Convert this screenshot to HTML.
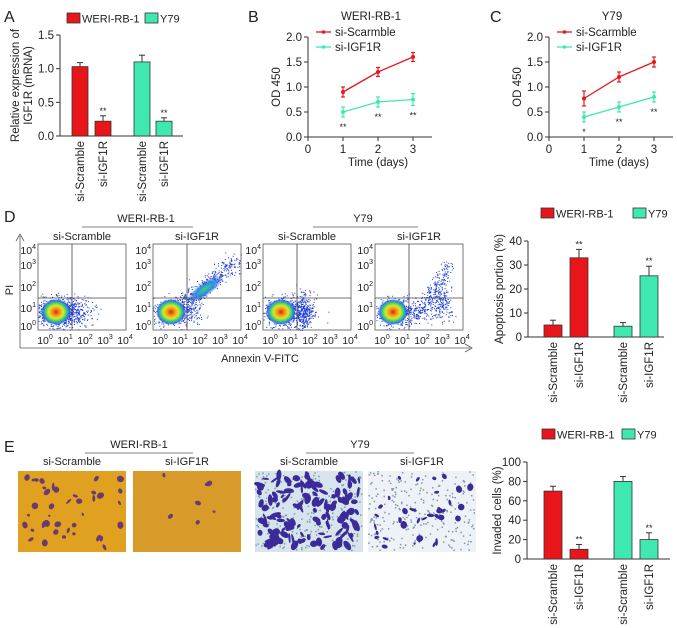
<!DOCTYPE html>
<html><head><meta charset="utf-8"><style>
body{margin:0;background:#fff;overflow:hidden}
svg{display:block;font-family:"Liberation Sans",Arial,sans-serif}
</style></head><body>
<svg id="fig" width="677" height="628" viewBox="0 0 677 628" xmlns="http://www.w3.org/2000/svg">
<defs>
<radialGradient id="core"><stop offset="0" stop-color="#e8201a"/><stop offset="0.3" stop-color="#f5a21a"/><stop offset="0.5" stop-color="#d8e82a"/><stop offset="0.7" stop-color="#3bd46a"/><stop offset="0.88" stop-color="#2a6af0" stop-opacity="0.9"/><stop offset="1" stop-color="#1a2ad8" stop-opacity="0"/></radialGradient>
<radialGradient id="tail"><stop offset="0" stop-color="#3fd66a"/><stop offset="0.5" stop-color="#2a90e8"/><stop offset="1" stop-color="#1a3ad8" stop-opacity="0"/></radialGradient>
</defs>
<g id="g" font-size="11" fill="#222"></g>
</svg>
<script>
// ---- data ----
const barCats = ["si-Scramble","si-IGF1R","si-Scramble","si-IGF1R"];
const aVals = [1.03,0.22,1.1,0.22];
const aErr = [0.06,0.08,0.1,0.05];
const aTicks = [0,0.5,1.0,1.5];
const lineDays = [1,2,3];
const bScr = [0.9,1.3,1.6];
const bScrErr = [0.1,0.09,0.09];
const bIgf = [0.5,0.7,0.75];
const bIgfErr = [0.1,0.1,0.12];
const cScr = [0.77,1.2,1.5];
const cScrErr = [0.15,0.1,0.1];
const cIgf = [0.4,0.6,0.8];
const cIgfErr = [0.1,0.1,0.1];
const odTicks = [0,0.5,1.0,1.5,2.0];
const dayTicks = [0,1,2,3];
const dVals = [5,33,4.5,25.5];
const dErr = [2,3.5,1.5,4];
const dTicks = [0,10,20,30,40];
const eVals = [70,10,80,20];
const eErr = [5,5,5,7];
const eTicks = [0,20,40,60,80,100];
const RED="#e8161b", TEAL="#3fe8b0";
const NS="http://www.w3.org/2000/svg";
const G=document.getElementById('g');
function el(tag,attrs,parent,text){const e=document.createElementNS(NS,tag);for(const k in attrs)e.setAttribute(k,attrs[k]);if(text!==undefined)e.textContent=text;(parent||G).appendChild(e);return e;}
function line(x1,y1,x2,y2,c,w,p){return el('line',{x1,y1,x2,y2,stroke:c||'#333','stroke-width':w||1},p);}

[["A",4,22],["B",248,22],["C",490,22],["D",4,222],["E",4,452]].forEach(([t,x,y])=>{
 const e=el('text',{x,y,'font-size':16},G,t);
 
 
});

function legend(x,y,x2){
 const r=el('rect',{x,y:y-6,width:13,height:10,fill:RED,stroke:'#333','stroke-width':0.8});
 
 const t=el('text',{x:x+15,y:y+3.5,'font-size':11},G,'WERI-RB-1');
 
 const r2=el('rect',{x:x2,y:y-6,width:13,height:10,fill:TEAL,stroke:'#333','stroke-width':0.8});
 
 const t2=el('text',{x:x2+15,y:y+3.5,'font-size':11},G,'Y79');
 
}

function barChart(o){
 const ys=v=>o.y0-(v-o.ticks[0])/(o.ticks[o.ticks.length-1]-o.ticks[0])*(o.y0-o.y1);
 line(o.ax,o.y1,o.ax,o.y0);line(o.ax,o.y0,o.axEnd,o.y0);
 o.ticks.forEach(t=>{const y=ys(t);line(o.ax-4,y,o.ax,y);
  const tl=el('text',{x:o.ax-6,y:y+4,'text-anchor':'end','font-size':11.5},G,o.fmt(t));
  });
 o.vals.forEach((v,i)=>{
  const cx=o.centers[i], c=i<2?RED:TEAL;
  const top=ys(v+o.err[i]);
  line(cx,ys(v),cx,top,'#333',1);line(cx-3,top,cx+3,top,'#333',1);
  const b=el('rect',{x:cx-o.bw/2,y:ys(v),width:o.bw,height:o.y0-ys(v),fill:c,stroke:'#333','stroke-width':0.8});
  
  
  if(i%2===1){const s=el('text',{x:cx,y:top-2,'text-anchor':'middle','font-size':9},G,'**');
   }
  const xl=el('text',{x:0,y:0,'text-anchor':'end','font-size':11.5,transform:`translate(${cx+4},${o.y0+5}) rotate(-90)`},G,barCats[i]);
  
 });
 o.ylab.forEach((t,k)=>{const yl=el('text',{x:0,y:0,'text-anchor':'middle','font-size':11.5,transform:`translate(${o.ylx+k*13},${(o.y0+o.y1)/2}) rotate(-90)`},G,t);
  });
}

legend(67,19,145);
barChart({ax:60,axEnd:183,y0:136,y1:35,ticks:aTicks,vals:aVals,err:aErr,centers:[80,103,142,164],bw:16,fmt:t=>t.toFixed(1),ylab:["Relative expression of","IGF1R (mRNA)"],ylx:19});
legend(541,214,633);
barChart({ax:528,axEnd:664,y0:337,y1:241,ticks:dTicks,vals:dVals,err:dErr,centers:[553,579,623,649],bw:18,fmt:t=>String(t),ylab:["Apoptosis portion (%)"],ylx:503});
legend(542,435,622);
barChart({ax:527,axEnd:670,y0:559,y1:462,ticks:eTicks,vals:eVals,err:eErr,centers:[553,579,623,649],bw:18,fmt:t=>String(t),ylab:["Invaded cells (%)"],ylx:501});

function lineChart(o){
 const xs=t=>o.ax+t*35, ys=v=>137-v*50;
 line(o.ax,37,o.ax,137);line(o.ax,137,o.ax+124,137);
 odTicks.forEach(t=>{line(o.ax-4,ys(t),o.ax,ys(t));
  const tl=el('text',{x:o.ax-6,y:ys(t)+4,'text-anchor':'end','font-size':11.5},G,t.toFixed(1));
  });
 dayTicks.forEach(t=>{line(xs(t),137,xs(t),141);
  const tl=el('text',{x:xs(t),y:153,'text-anchor':'middle','font-size':11.5},G,String(t));
  });
 const xt=el('text',{x:xs(2),y:166,'text-anchor':'middle','font-size':11.5},G,'Time (days)');
 
 const yt=el('text',{x:0,y:0,'text-anchor':'middle','font-size':11.5,transform:`translate(${o.ax-28},87) rotate(-90)`},G,'OD 450');
 
 const ti=el('text',{x:o.ax+63,y:20,'text-anchor':'middle','font-size':11.5},G,o.title);
 
 [[o.scr,o.scrE,RED,'si-scramble'],[o.igf,o.igfE,TEAL,'si-igf1r']].forEach(([vals,err,c,n])=>{
  const p=el('polyline',{points:vals.map((v,i)=>xs(lineDays[i])+','+ys(v)).join(' '),fill:'none',stroke:c,'stroke-width':1.3});
  
  vals.forEach((v,i)=>{const x=xs(lineDays[i]);
   line(x,ys(v-err[i]),x,ys(v+err[i]),c,1.2);line(x-2,ys(v-err[i]),x+2,ys(v-err[i]),c,1.2);line(x-2,ys(v+err[i]),x+2,ys(v+err[i]),c,1.2);
   const pt=el('circle',{cx:x,cy:ys(v),r:2,fill:c});
   });
 });
 o.igf.forEach((v,i)=>{const s=el('text',{x:xs(lineDays[i]),y:ys(v-o.igfE[i])+13,'text-anchor':'middle','font-size':9},G,o.stars[i]);
  });
 [[RED,'si-Scarmble',32],[TEAL,'si-IGF1R',47]].forEach(([c,t,y])=>{
  line(o.ax+8,y,o.ax+23,y,c,1.3);el('circle',{cx:o.ax+15.5,cy:y,r:1.8,fill:c});
  const lt=el('text',{x:o.ax+27,y:y+4,'font-size':11.5},G,t);
  });
}
lineChart({ax:308,title:'WERI-RB-1',scr:bScr,scrE:bScrErr,igf:bIgf,igfE:bIgfErr,stars:['**','**','**']});
lineChart({ax:549,title:'Y79',scr:cScr,scrE:cScrErr,igf:cIgf,igfE:cIgfErr,stars:['*','**','**']});

function header(t,cx,y,x1,x2){const h=el('text',{x:cx,y,'text-anchor':'middle','font-size':11},G,t);
 line(x1,y+5,x2,y+5,'#555',0.8);}
header('WERI-RB-1',146,222,82,193);header('Y79',363,222,313,418);
header('WERI-RB-1',139,448,85,193);header('Y79',360,448,306,414);

let seed=7;function rnd(){seed=(seed*16807)%2147483647;return seed/2147483647;}
function gauss(){return (rnd()+rnd()+rnd()-1.5)/0.5;}
const flowX=[38,153,263,375], flowNames=['si-Scramble','si-IGF1R','si-Scramble','si-IGF1R'];
const fTop=244,fH=86,fW=88;
flowX.forEach((x0,k)=>{
 const g=el('g',{});
 el('rect',{x:x0,y:fTop,width:fW,height:fH,fill:'#fff',stroke:'#555','stroke-width':0.8},g);
 const n=900;
 for(let i=0;i<n;i++){let px,py;
  if(k===1&&i%2===0){const t=rnd();px=x0+22+t*62+gauss()*5;py=fTop+68-t*52+gauss()*5;}
  else if(k===3&&i%2===0){const t=rnd();if(i%4===0){px=x0+40+t*35+gauss()*4;py=fTop+75-t*55+gauss()*4;}else{px=x0+65+gauss()*6;py=fTop+60+gauss()*10;}}
  else if(k===2&&i%3===0){px=x0+40+gauss()*5;py=fTop+68+gauss()*10;}
  else {px=x0+22+gauss()*9*(1+rnd());py=fTop+68+gauss()*7;}
  if(px<x0||px>x0+fW||py<fTop||py>fTop+fH)continue;
  el('rect',{x:px,y:py,width:1,height:1,fill:'#1a3ad8'},g);}
 if(k===1)el('ellipse',{cx:x0+52,cy:fTop+45,rx:22,ry:7,fill:'url(#tail)',transform:`rotate(-35 ${x0+52} ${fTop+45})`},g);
 el('ellipse',{cx:x0+18,cy:fTop+68,rx:15,ry:13,fill:'url(#core)'},g);
 line(x0+34,fTop,x0+34,fTop+fH,'#444',0.8,g);line(x0,fTop+54,x0+fW,fTop+54,'#444',0.8,g);
 ['4','3','2','1','0'].forEach((e,j)=>{const yy=[250,265,287,308,326][j];
  const t=el('text',{x:x0-2,y:yy+4,'text-anchor':'end','font-size':10.5},g,'10');el('tspan',{dy:-5,'font-size':7},t,e);});
 ['0','1','2','3','4'].forEach((e,j)=>{const t=el('text',{x:x0+7+j*20,y:344,'text-anchor':'middle','font-size':10.5},g,'10');el('tspan',{dy:-5,'font-size':7},t,e);});
 const h=el('text',{x:x0+44,y:240,'text-anchor':'middle','font-size':11},G,flowNames[k]);
 
});
line(20,236,20,348,'#555',0.8);line(20,348,470,348,'#555',0.8);
el('path',{d:'M16,241 L20,234 L24,241',fill:'none',stroke:'#555','stroke-width':0.8});
el('path',{d:'M465,344 L472,348 L465,352',fill:'none',stroke:'#555','stroke-width':0.8});
const pi=el('text',{x:0,y:0,'text-anchor':'middle','font-size':11,transform:'translate(13,290) rotate(-90)'},G,'PI');

const ax=el('text',{x:260,y:362,'text-anchor':'middle','font-size':11},G,'Annexin V-FITC');


const imgX=[18,133,255,368], imgBg=['#e0a020','#d89a28','#d8e4ec','#eef2f6'], blobCount=[40,7,140,35];
const iTop=471,iH=81,iW=108;
imgX.forEach((x0,k)=>{
 const g=el('g',{});
 el('rect',{x:x0,y:iTop,width:iW,height:iH,fill:imgBg[k]},g);
 if(k>=2)for(let i=0;i<250;i++)el('rect',{x:x0+rnd()*106,y:iTop+rnd()*79,width:1.5,height:1.5,fill:'#7a9aa8'},g);
 for(let i=0;i<blobCount[k];i++){const cx=x0+4+rnd()*100,cy=iTop+4+rnd()*73;
  el('ellipse',{cx,cy,rx:k===2?2+rnd()*4:1+rnd()*3,ry:1+rnd()*2.5,fill:k<2?'#6a3a70':'#3a2a9a',transform:`rotate(${rnd()*180} ${cx} ${cy})`},g);}
 const h=el('text',{x:x0+54,y:465,'text-anchor':'middle','font-size':11},G,flowNames[k]);
 
});
</script>
</body></html>
